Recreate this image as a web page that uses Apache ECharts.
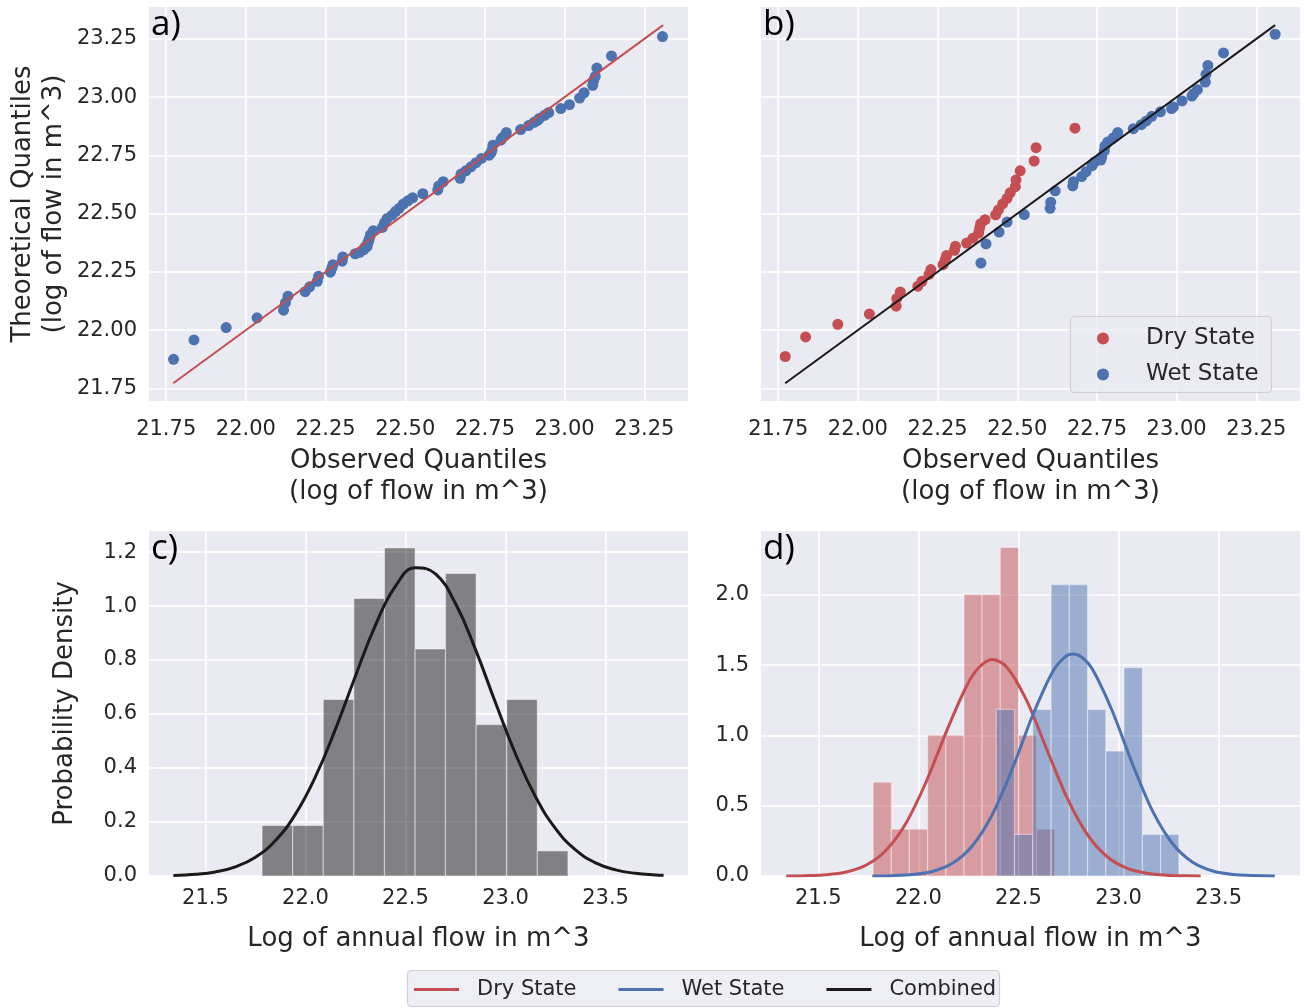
<!DOCTYPE html>
<html><head><meta charset="utf-8">
<script src="https://cdn.jsdelivr.net/npm/echarts@6/dist/echarts.min.js"></script>
<style>html,body{margin:0;padding:0;background:#fff}#c{width:1304px;height:1008px}</style>
</head><body><div id="c"></div>
<script>
// ---------- data ----------
const qqTicks = [21.75, 22.00, 22.25, 22.50, 22.75, 23.00, 23.25];
const histXTicks = [21.5, 22.0, 22.5, 23.0, 23.5];
const cYTicks = [0, 0.2, 0.4, 0.6, 0.8, 1.0, 1.2];
const dYTicks = [0, 0.5, 1.0, 1.5, 2.0];

// panel a: all years
const aObs = [21.773,21.837,21.938,22.035,22.118,22.124,22.132,22.186,22.200,22.224,22.228,22.265,22.270,22.273,22.302,22.304,22.343,22.357,22.369,22.373,22.380,22.382,22.384,22.387,22.391,22.400,22.428,22.435,22.443,22.459,22.470,22.481,22.494,22.508,22.523,22.555,22.602,22.605,22.619,22.672,22.675,22.690,22.706,22.722,22.739,22.763,22.769,22.772,22.775,22.800,22.805,22.814,22.817,22.862,22.887,22.904,22.915,22.920,22.937,22.950,22.988,23.015,23.047,23.061,23.088,23.091,23.096,23.101,23.147,23.307];
const aTheo = [21.875,21.958,22.011,22.053,22.086,22.118,22.146,22.165,22.186,22.210,22.231,22.249,22.267,22.281,22.296,22.314,22.328,22.334,22.345,22.355,22.359,22.374,22.377,22.392,22.410,22.427,22.441,22.462,22.479,22.494,22.510,22.523,22.541,22.555,22.568,22.586,22.602,22.619,22.637,22.652,22.670,22.684,22.701,22.719,22.737,22.751,22.761,22.773,22.794,22.816,22.826,22.837,22.848,22.861,22.878,22.892,22.900,22.908,22.922,22.934,22.951,22.968,22.996,23.019,23.051,23.072,23.089,23.125,23.177,23.260];
const refLine = [21.772, 23.309];

// panel b: by state
const dryObs = [21.772,21.836,21.937,22.036,22.120,22.122,22.133,22.188,22.201,22.223,22.229,22.267,22.274,22.278,22.303,22.306,22.341,22.361,22.379,22.382,22.385,22.399,22.432,22.441,22.454,22.468,22.478,22.494,22.496,22.509,22.553,22.559,22.681];
const dryTheo = [21.887,21.971,22.025,22.069,22.103,22.136,22.164,22.189,22.210,22.239,22.260,22.281,22.303,22.320,22.343,22.360,22.374,22.395,22.417,22.438,22.457,22.474,22.495,22.516,22.542,22.566,22.590,22.616,22.645,22.684,22.726,22.783,22.867];
const wetObs = [22.386,22.402,22.443,22.468,22.522,22.603,22.605,22.619,22.674,22.676,22.702,22.716,22.735,22.743,22.762,22.765,22.773,22.775,22.784,22.801,22.815,22.864,22.889,22.905,22.922,22.949,22.984,22.990,23.017,23.048,23.053,23.065,23.090,23.092,23.098,23.147,23.309];
const wetTheo = [22.288,22.370,22.421,22.464,22.496,22.523,22.549,22.598,22.619,22.637,22.659,22.680,22.706,22.723,22.730,22.744,22.770,22.790,22.808,22.825,22.848,22.865,22.882,22.898,22.918,22.937,22.951,22.958,22.984,23.005,23.015,23.032,23.065,23.098,23.136,23.190,23.270];

// panel c: combined histogram + fitted curve
const cEdges = [21.783,21.936,22.089,22.242,22.395,22.548,22.700,22.853,23.006,23.159,23.312];
const cDens = [0.187,0.187,0.654,1.028,1.215,0.841,1.121,0.561,0.654,0.093];
const combX = [21.34,21.45,21.55,21.65,21.75,21.85,21.95,22.05,22.15,22.25,22.35,22.45,22.55,22.65,22.75,22.85,22.95,23.05,23.15,23.25,23.35,23.45,23.55,23.65,23.75,23.79];
const combY = [0.0021,0.0062,0.0151,0.0337,0.0694,0.1314,0.2291,0.3679,0.5441,0.7411,0.9295,1.0737,1.1420,1.1188,1.0093,0.8385,0.6416,0.4520,0.2933,0.1753,0.0964,0.0489,0.0228,0.0098,0.0039,0.0026];

// panel d: histograms by state + fitted curves
const dryEdges = [21.774,21.865,21.955,22.046,22.137,22.228,22.318,22.409,22.500,22.590,22.681];
const dryDens = [0.668,0.334,0.334,1.002,1.002,2.004,2.004,2.338,1.002,0.334];
const wetEdges = [22.389,22.480,22.571,22.663,22.754,22.845,22.936,23.027,23.119,23.210,23.301];
const wetDens = [1.185,0.296,1.185,2.074,2.074,1.185,0.889,1.482,0.296,0.296];
const dryCurveX = [21.34,21.44,21.54,21.64,21.74,21.84,21.94,22.04,22.14,22.24,22.30,22.37,22.44,22.54,22.64,22.74,22.84,22.94,23.04,23.14,23.24,23.34,23.41];
const dryCurveY = [0.0006,0.0024,0.0088,0.0282,0.0779,0.1856,0.3812,0.6742,1.0278,1.3500,1.4801,1.5399,1.4893,1.2511,0.9057,0.5647,0.3035,0.1405,0.0560,0.0193,0.0057,0.0015,0.0005];
const wetCurveX = [21.77,21.87,21.97,22.07,22.17,22.27,22.37,22.47,22.57,22.67,22.73,22.77,22.81,22.87,22.97,23.07,23.17,23.27,23.37,23.47,23.57,23.67,23.78];
const wetCurveY = [0.0006,0.0026,0.0099,0.0324,0.0904,0.2155,0.4392,0.7654,1.1400,1.4515,1.5561,1.5799,1.5640,1.4699,1.1690,0.7947,0.4618,0.2294,0.0975,0.0354,0.0110,0.0029,0.0006];

const panelLabels = ['a)', 'b)', 'c)', 'd)'];
const legendNames = ['Dry State', 'Wet State', 'Combined'];

// ---------- helpers ----------
const FONT = 'DejaVu Sans';
const TXT = '#262626';
const BG = '#EAEAF2';
const RED = '#c44e52', BLUE = '#4c72b0', BLACK = '#1a1a1a';

const zip = (a, b) => a.map((v, i) => [v, b[i]]);
const bins = (edges, dens) => dens.map((h, i) => [edges[i], edges[i + 1], h]);

function valAxis(gridIndex, min, max, ticks, dec, extra, labelMargin) {
  return Object.assign({
    type: 'value', gridIndex, min, max,
    axisLine: { show: false },
    axisTick: { show: false, customValues: ticks },
    axisLabel: { customValues: ticks, formatter: v => v.toFixed(dec), fontFamily: FONT, fontSize: 21, color: TXT, margin: labelMargin || 12 },
    splitLine: { show: true, lineStyle: { color: '#ffffff', width: 1.6 } },
    nameTextStyle: { fontFamily: FONT, fontSize: 26, color: TXT, lineHeight: 31 }
  }, extra || {});
}

function histRender(params, api) {
  const p0 = api.coord([api.value(0), api.value(2)]);
  const p1 = api.coord([api.value(1), 0]);
  return {
    type: 'rect',
    shape: { x: p0[0], y: p0[1], width: p1[0] - p0[0], height: p1[1] - p0[1] },
    style: api.style()
  };
}

const QMIN = 21.696, QMAX = 23.387;
const xName = 'Observed Quantiles\n(log of flow in m^3)';

const option = {
  animation: false,
  backgroundColor: '#ffffff',
  textStyle: { fontFamily: FONT },
  grid: [
    { left: 149, top: 7, width: 539, height: 394, show: true, backgroundColor: BG, borderWidth: 0 },
    { left: 761, top: 7, width: 539, height: 394, show: true, backgroundColor: BG, borderWidth: 0 },
    { left: 149, top: 531, width: 539, height: 345, show: true, backgroundColor: BG, borderWidth: 0 },
    { left: 761, top: 531, width: 539, height: 345, show: true, backgroundColor: BG, borderWidth: 0 }
  ],
  xAxis: [
    valAxis(0, QMIN, QMAX, qqTicks, 2, { name: xName, nameLocation: 'middle', nameGap: 45 }, 18),
    valAxis(1, QMIN, QMAX, qqTicks, 2, { name: xName, nameLocation: 'middle', nameGap: 45 }, 18),
    valAxis(2, 21.218, 23.912, histXTicks, 1, { name: 'Log of annual flow in m^3', nameLocation: 'middle', nameGap: 48 }),
    valAxis(3, 21.214, 23.906, histXTicks, 1, { name: 'Log of annual flow in m^3', nameLocation: 'middle', nameGap: 48 })
  ],
  yAxis: [
    valAxis(0, QMIN, QMAX, qqTicks, 2, { name: 'Theoretical Quantiles\n(log of flow in m^3)', nameLocation: 'middle', nameGap: 79 }),
    valAxis(1, QMIN, QMAX, qqTicks, 2, { axisLabel: { show: false, customValues: qqTicks } }),
    valAxis(2, 0, 1.278, cYTicks, 1, { name: 'Probability Density', nameLocation: 'middle', nameGap: 68 }),
    valAxis(3, 0, 2.455, dYTicks, 1)
  ],
  title: panelLabels.map((t, i) => ({
    text: t, padding: 0,
    left: (i % 2 === 0) ? 151 : 763,
    top: (i < 2) ? 8 : 532,
    textStyle: { fontFamily: 'Open Sans', fontSize: 35, fontWeight: 'normal', color: '#000' }
  })),
  graphic: [
    { type: 'rect', z: 3, shape: { x: 1070.5, y: 316.5, width: 201, height: 76, r: 4 }, style: { fill: 'rgba(234,234,242,0.8)', stroke: '#cfcfd4', lineWidth: 1.2 } },
    { type: 'rect', z: 3, shape: { x: 407.5, y: 970.5, width: 592, height: 36, r: 4 }, style: { fill: 'rgba(234,234,242,0.8)', stroke: '#cfcfd4', lineWidth: 1.2 } }
  ],
  legend: [
    {
      orient: 'vertical', left: 1097, top: 327, padding: 0, itemGap: 13,
      itemWidth: 12, itemHeight: 12,
      data: [
        { name: legendNames[0], icon: 'circle', itemStyle: { color: RED } },
        { name: legendNames[1], icon: 'circle', itemStyle: { color: BLUE } }
      ],
      formatter: '{t|{name}}',
      textStyle: { color: TXT, fontFamily: FONT, fontSize: 23, rich: { t: { fontFamily: FONT, fontSize: 23, color: TXT, lineHeight: 22, padding: [0, 0, 0, 32] } } },
      selectedMode: false, z: 5
    },
    {
      orient: 'horizontal', left: 414, top: 979, padding: 0, itemGap: 42,
      itemWidth: 45, itemHeight: 3,
      data: [
        { name: legendNames[0], icon: 'rect', itemStyle: { color: RED } },
        { name: legendNames[1], icon: 'rect', itemStyle: { color: BLUE } },
        { name: legendNames[2], icon: 'rect', itemStyle: { color: BLACK } }
      ],
      formatter: '{t|{name}}',
      textStyle: { color: TXT, fontFamily: FONT, fontSize: 21, rich: { t: { fontFamily: FONT, fontSize: 21, color: TXT, lineHeight: 22, padding: [0, 0, 0, 13] } } },
      selectedMode: false, z: 5
    }
  ],
  series: [
    { type: 'scatter', name: 'All years', xAxisIndex: 0, yAxisIndex: 0, data: zip(aObs, aTheo), symbolSize: 11, itemStyle: { color: BLUE, opacity: 1 }, z: 2 },
    { type: 'line', name: 'a reference', xAxisIndex: 0, yAxisIndex: 0, data: zip(refLine, refLine), symbol: 'none', lineStyle: { color: RED, width: 2 }, z: 3 },
    { type: 'scatter', name: legendNames[0], xAxisIndex: 1, yAxisIndex: 1, data: zip(dryObs, dryTheo), symbolSize: 11, itemStyle: { color: RED, opacity: 1 }, z: 2 },
    { type: 'scatter', name: legendNames[1], xAxisIndex: 1, yAxisIndex: 1, data: zip(wetObs, wetTheo), symbolSize: 11, itemStyle: { color: BLUE, opacity: 1 }, z: 2 },
    { type: 'line', name: 'b reference', xAxisIndex: 1, yAxisIndex: 1, data: zip(refLine, refLine), symbol: 'none', lineStyle: { color: BLACK, width: 2 }, z: 3 },
    { type: 'custom', name: 'Combined hist', xAxisIndex: 2, yAxisIndex: 2, renderItem: histRender, encode: { x: [0, 1], y: 2 }, data: bins(cEdges, cDens), itemStyle: { color: 'rgba(0,0,0,0.45)', borderColor: 'rgba(255,255,255,0.45)', borderWidth: 1.2 }, z: 2 },
    { type: 'line', name: legendNames[2], xAxisIndex: 2, yAxisIndex: 2, data: zip(combX, combY), symbol: 'none', smooth: 0.45, lineStyle: { color: BLACK, width: 3 }, itemStyle: { color: BLACK }, z: 3 },
    { type: 'custom', name: 'Dry hist', xAxisIndex: 3, yAxisIndex: 3, renderItem: histRender, encode: { x: [0, 1], y: 2 }, data: bins(dryEdges, dryDens), itemStyle: { color: 'rgba(196,78,82,0.5)', borderColor: 'rgba(255,255,255,0.4)', borderWidth: 1.2 }, z: 2 },
    { type: 'custom', name: 'Wet hist', xAxisIndex: 3, yAxisIndex: 3, renderItem: histRender, encode: { x: [0, 1], y: 2 }, data: bins(wetEdges, wetDens), itemStyle: { color: 'rgba(76,114,176,0.5)', borderColor: 'rgba(255,255,255,0.4)', borderWidth: 1.2 }, z: 2 },
    { type: 'line', name: legendNames[0], xAxisIndex: 3, yAxisIndex: 3, data: zip(dryCurveX, dryCurveY), symbol: 'none', smooth: 0.3, lineStyle: { color: RED, width: 3 }, itemStyle: { color: RED }, z: 3 },
    { type: 'line', name: legendNames[1], xAxisIndex: 3, yAxisIndex: 3, data: zip(wetCurveX, wetCurveY), symbol: 'none', smooth: 0.3, lineStyle: { color: BLUE, width: 3 }, itemStyle: { color: BLUE }, z: 3 }
  ]
};

const chart = echarts.init(document.getElementById('c'), null, { renderer: 'canvas' });
chart.setOption(option);
</script></body></html>
